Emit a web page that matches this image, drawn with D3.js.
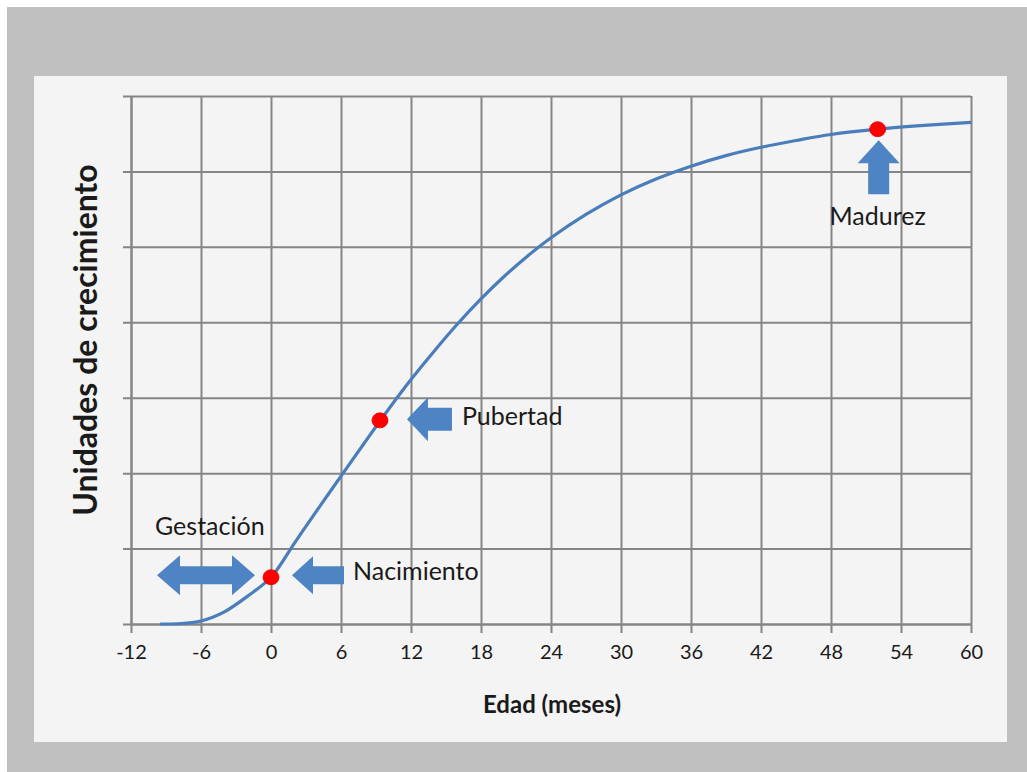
<!DOCTYPE html>
<html>
<head>
<meta charset="utf-8">
<script src="https://cdn.jsdelivr.net/npm/d3@7"></script>
<style>
  html, body { margin: 0; padding: 0; background: #ffffff; }
  svg { display: block; }
  text { font-family: Lato, "Open Sans", "DejaVu Sans", sans-serif; fill: #1a1a1a; }
</style>
</head>
<body>
<svg id="chart" width="1027" height="772"></svg>
<script>
// Growth curve: age in months vs. growth units
const ageMonths = [-9.5, -8, -7, -6, -5, -4, -2, 0, 2, 4, 6, 8, 10, 12, 14, 16, 18, 20, 22, 24, 27, 30, 33, 36, 39, 42, 45, 48, 52, 56, 60];
const growthUnits = [0, 0.003, 0.014, 0.04, 0.09, 0.16, 0.37, 0.62, 1.07, 1.52, 1.96, 2.40, 2.83, 3.24, 3.62, 3.98, 4.31, 4.61, 4.88, 5.12, 5.43, 5.69, 5.90, 6.07, 6.21, 6.32, 6.41, 6.49, 6.56, 6.61, 6.65];

// Highlighted milestones on the curve
const milestoneNames = ["Nacimiento", "Pubertad", "Madurez"];
const milestoneMonths = [0, 9.34, 52];
const milestoneValues = [0.62, 2.70, 6.56];

// Axis ticks
const xTickValues = [-12, -6, 0, 6, 12, 18, 24, 30, 36, 42, 48, 54, 60];
const yTickValues = [0, 1, 2, 3, 4, 5, 6, 7];

const xTitle = "Edad (meses)";
const yTitle = "Unidades de crecimiento";
const gestationLabel = "Gestación";

const svg = d3.select("#chart");
const W = 1027, H = 772;

// Frame and panel
svg.append("rect").attr("x", 7).attr("y", 7).attr("width", W - 7).attr("height", H - 7).attr("fill", "#c0c0c0");
svg.append("rect").attr("x", 34).attr("y", 76).attr("width", 973).attr("height", 666).attr("fill", "#f4f4f4");

const plot = { left: 131, right: 971, top: 96, bottom: 624 };
const x = d3.scaleLinear().domain([-12, 60]).range([plot.left, plot.right]);
const y = d3.scaleLinear().domain([0, 7]).range([plot.bottom, plot.top]);

const gridColor = "#858585";

// Vertical grid lines
svg.append("g")
  .attr("transform", `translate(0,${plot.top})`)
  .call(d3.axisBottom(x).tickValues(xTickValues).tickSize(plot.bottom - plot.top).tickFormat(""))
  .call(g => g.select(".domain").remove())
  .call(g => g.selectAll("line").attr("stroke", gridColor).attr("stroke-width", 2));

// Horizontal grid lines (with left tick stubs)
svg.append("g")
  .attr("transform", `translate(${plot.right},0)`)
  .call(d3.axisLeft(y).tickValues(yTickValues).tickSize(plot.right - plot.left + 8).tickFormat(""))
  .call(g => g.select(".domain").remove())
  .call(g => g.selectAll("line").attr("stroke", gridColor).attr("stroke-width", 2));

// Left axis line
svg.append("g")
  .attr("transform", `translate(${plot.left},0)`)
  .call(d3.axisLeft(y).tickValues(yTickValues).tickSize(0).tickFormat(""))
  .call(g => g.select(".domain").attr("stroke", gridColor).attr("stroke-width", 2));

// Bottom axis with labels
svg.append("g")
  .attr("transform", `translate(0,${plot.bottom})`)
  .call(d3.axisBottom(x).tickValues(xTickValues).tickSize(9).tickPadding(12).tickSizeOuter(0)
    .tickFormat(d => String(d)))
  .call(g => g.select(".domain").attr("stroke", gridColor).attr("stroke-width", 2))
  .call(g => g.selectAll("line").attr("stroke", gridColor).attr("stroke-width", 2))
  .call(g => g.selectAll("text")
    .attr("font-family", "Lato, 'Open Sans', sans-serif")
    .attr("font-size", 20)
    .attr("fill", "#1a1a1a"));

// Axis titles
svg.append("text")
  .attr("x", 552).attr("y", 713)
  .attr("text-anchor", "middle")
  .attr("font-size", 24).attr("font-weight", "bold")
  .text(xTitle);

svg.append("text")
  .attr("transform", `translate(97,340) rotate(-90)`)
  .attr("text-anchor", "middle")
  .attr("font-size", 32).attr("font-weight", "bold")
  .text(yTitle);

// Growth curve
const line = d3.line()
  .x((d, i) => x(ageMonths[i]))
  .y(d => y(d))
  .curve(d3.curveCatmullRom.alpha(0.5));

svg.append("path")
  .datum(growthUnits)
  .attr("d", line)
  .attr("fill", "none")
  .attr("stroke", "#4a7ebb")
  .attr("stroke-width", 3.2)
  .attr("stroke-linejoin", "round");

// Block arrow shape: tip at (tx,ty), pointing in direction (dx,dy)
function blockArrow(tx, ty, dx, dy, len, head, headHalf, bodyHalf) {
  const px = -dy, py = dx; // perpendicular
  const bx = tx - dx * head, by = ty - dy * head;
  const ex = tx - dx * len, ey = ty - dy * len;
  const pts = [
    [tx, ty],
    [bx + px * headHalf, by + py * headHalf],
    [bx + px * bodyHalf, by + py * bodyHalf],
    [ex + px * bodyHalf, ey + py * bodyHalf],
    [ex - px * bodyHalf, ey - py * bodyHalf],
    [bx - px * bodyHalf, by - py * bodyHalf],
    [bx - px * headHalf, by - py * headHalf]
  ];
  return "M" + pts.map(p => p.join(",")).join("L") + "Z";
}

// Double-headed horizontal arrow between lx and rx
function doubleArrow(lx, rx, cy, head, headHalf, bodyHalf) {
  const pts = [
    [lx, cy],
    [lx + head, cy - headHalf],
    [lx + head, cy - bodyHalf],
    [rx - head, cy - bodyHalf],
    [rx - head, cy - headHalf],
    [rx, cy],
    [rx - head, cy + headHalf],
    [rx - head, cy + bodyHalf],
    [lx + head, cy + bodyHalf],
    [lx + head, cy + headHalf]
  ];
  return "M" + pts.map(p => p.join(",")).join("L") + "Z";
}

const arrowFill = "#4f84c4";
const mx = milestoneMonths.map(m => x(m));
const my = milestoneValues.map(v => y(v));

// Nacimiento arrow pointing left toward the birth point
svg.append("path").attr("d", blockArrow(mx[0] + 21, my[0] - 2, -1, 0, 52, 21, 19, 9)).attr("fill", arrowFill);
// Gestation span arrow
svg.append("path").attr("d", doubleArrow(mx[0] - 114, mx[0] - 16, my[0] - 2, 23, 20, 9)).attr("fill", arrowFill);
// Pubertad arrow
svg.append("path").attr("d", blockArrow(mx[1] + 27, my[1] - 1, -1, 0, 45, 21, 22, 11.5)).attr("fill", arrowFill);
// Madurez arrow pointing up
svg.append("path").attr("d", blockArrow(mx[2] + 1, my[2] + 11, 0, -1, 54, 23, 21, 10.5)).attr("fill", arrowFill);

// Milestone points
svg.selectAll("ellipse.milestone")
  .data(milestoneNames)
  .join("ellipse")
  .attr("class", "milestone")
  .attr("cx", (d, i) => mx[i])
  .attr("cy", (d, i) => my[i])
  .attr("rx", 8).attr("ry", 7.5)
  .attr("fill", "#ff0000")
  .attr("stroke", "#e00000").attr("stroke-width", 0.8);

// Milestone labels
const labelStyle = sel => sel.attr("font-size", 25).attr("fill", "#1a1a2a");
svg.append("text").attr("x", mx[0] + 82).attr("y", my[0] + 3).text(milestoneNames[0]).call(labelStyle);
svg.append("text").attr("x", mx[1] + 82).attr("y", my[1] + 5).text(milestoneNames[1]).call(labelStyle);
svg.append("text").attr("x", mx[2]).attr("y", my[2] + 96).attr("text-anchor", "middle").text(milestoneNames[2]).call(labelStyle);
svg.append("text").attr("x", mx[0] - 116).attr("y", my[0] - 42).text(gestationLabel).call(labelStyle);
</script>
</body>
</html>
